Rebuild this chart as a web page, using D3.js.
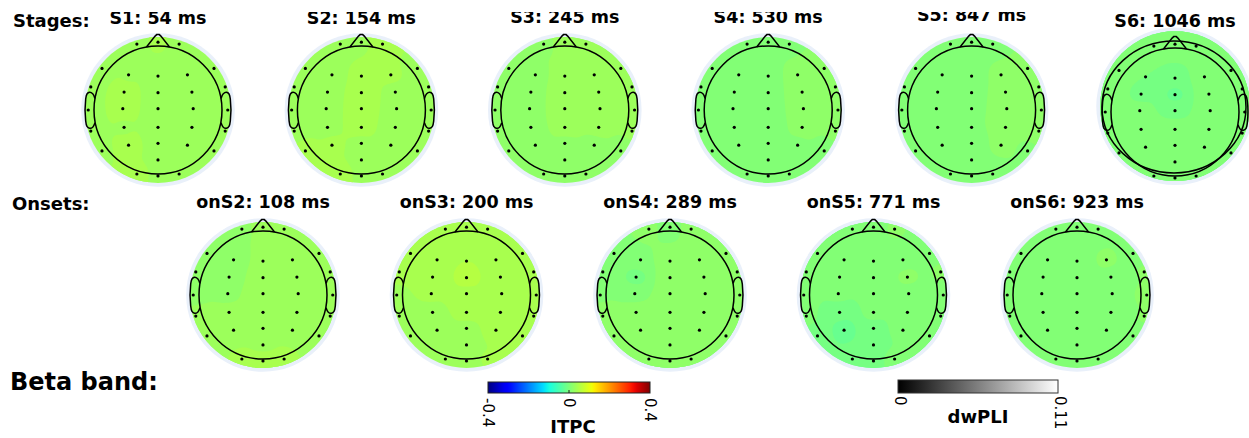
<!DOCTYPE html>
<html lang="en">
<head>
<meta charset="UTF-8">
<title>Beta band ITPC topographies</title>
<script src="https://d3js.org/d3.v7.min.js"></script>
<style>
  body { margin: 0; background: #fff; }
  svg { display: block; font-family: "DejaVu Sans", sans-serif; }
  .title { font-weight: bold; font-size: 17.5px; text-anchor: middle; }
  .row-label { font-weight: bold; font-size: 18px; }
  .cb-label { font-weight: bold; font-size: 18px; text-anchor: middle; }
  .tick-label { font-size: 15px; }
</style>
</head>
<body>
<div id="chart"></div>
<script>
// electrode montage, in head-radius units (x right, y towards the back of the head)
const electrodes = ["Fpz","Fp1","Fp2","F7","F8","FT7","FT8","T7","T8","TP7","TP8","P7","P8","O1","O2","Oz",
  "F3","Fz","F4","FC3","FCz","FC4","C3","Cz","C4","CP3","CPz","CP4","P3","Pz","P4","POz"];
const electrodeX = [0,-0.33,0.33,-0.875,0.875,-1.05,1.05,-1.09,1.09,-1.05,1.05,-0.875,0.875,-0.33,0.33,0,
  -0.46,0,0.46,-0.53,0,0.53,-0.55,0,0.55,-0.53,0,0.53,-0.46,0,0.46,0];
const electrodeY = [-1.06,-1.03,-1.03,-0.65,-0.65,-0.36,-0.36,0,0,0.33,0.33,0.64,0.64,1.0,1.0,1.03,
  -0.55,-0.53,-0.55,-0.28,-0.27,-0.28,-0.02,-0.02,-0.02,0.27,0.27,0.27,0.55,0.52,0.55,0.78];

// stage / onset names and latencies (ms)
const stageNames = ["S1","S2","S3","S4","S5","S6"];
const stageLatency = [54,154,245,530,847,1046];
const onsetNames = ["onS2","onS3","onS4","onS5","onS6"];
const onsetLatency = [108,200,289,771,923];

// ITPC per electrode (same order as `electrodes`)
const s1 = [.040,.033,.031,.031,.031,.032,.030,.031,.030,.032,.030,.036,.030,.042,.030,.036,
  .036,.031,.030,.047,.032,.030,.046,.032,.030,.036,.031,.030,.044,.033,.030,.034];
const s2 = [.036,.031,.044,.030,.033,.030,.031,.030,.030,.032,.030,.042,.030,.044,.031,.036,
  .030,.042,.040,.031,.046,.034,.032,.046,.032,.034,.045,.031,.040,.034,.030,.032];
const s3 = [.030,.022,.032,.020,.030,.020,.030,.020,.030,.020,.026,.020,.020,.019,.019,.019,
  .020,.032,.033,.020,.033,.033,.020,.034,.033,.021,.032,.030,.019,.022,.020,.019];
const s4 = [.005,.004,.010,.004,.018,.004,.020,.004,.018,.004,.014,.004,.008,.004,.005,.004,
  .004,.006,.020,.004,.008,.021,.004,.007,.021,.004,.006,.018,.004,.005,.010,.004];
const s5 = [.004,.004,.008,.004,.015,.004,.019,.004,.020,.004,.019,.004,.010,.004,.004,.004,
  .004,.005,.016,.004,.008,.020,.004,.010,.021,.004,.012,.021,.004,.005,.016,.004];
const s6 = [.005,.005,.005,.005,.005,.005,.005,.005,.005,.005,.005,.005,.005,.005,.005,.005,
  .000,-.004,.005,-.002,-.016,.005,.003,-.002,.005,.004,.004,.000,.005,.005,.004,.005];
const onS2 = [.030,.022,.030,.020,.032,.020,.032,.022,.032,.028,.032,.030,.034,.040,.040,.042,
  .020,.026,.030,.019,.030,.032,.022,.032,.033,.028,.033,.033,.032,.034,.034,.036];
const onS3 = [.044,.044,.044,.042,.044,.040,.044,.036,.044,.030,.044,.030,.042,.031,.038,.033,
  .044,.050,.045,.042,.058,.046,.040,.046,.044,.032,.042,.044,.030,.034,.040,.032];
const onS4 = [.008,.014,.016,.012,.018,.005,.018,.012,.018,.016,.018,.017,.018,.018,.018,.018,
  .012,.016,.018,-.006,.017,.018,.010,.018,.018,.017,.018,.018,.018,.018,.018,.018];
const onS5 = [.005,.004,.014,.004,.006,.004,.014,.004,.008,.002,.005,-.004,.005,-.008,.004,-.002,
  .004,.004,.006,.004,.004,.016,.004,.004,.005,-.010,.003,.005,-.020,-.004,.004,-.012];
const onS6 = [.004,.004,.005,.004,.006,.004,.013,.004,.015,.004,.013,.004,.006,.004,.004,.004,
  .004,.004,.016,.004,.004,.006,.004,.004,.008,.004,.004,.006,.004,.004,.005,.004];

const itpcTicks = [-0.4, 0, 0.4];
const dwpliTicks = [0, 0.11];

const svgWidth = 1249, svgHeight = 438;
const svg = d3.select("#chart").append("svg")
  .attr("width", svgWidth)
  .attr("height", svgHeight);
const defs = svg.append("defs");

// matplotlib "jet"
const jetR = d3.scaleLinear().domain([0, 0.35, 0.66, 0.89, 1]).range([0, 0, 1, 1, 0.5]).clamp(true);
const jetG = d3.scaleLinear().domain([0, 0.125, 0.375, 0.64, 0.91, 1]).range([0, 0, 1, 1, 0, 0]).clamp(true);
const jetB = d3.scaleLinear().domain([0, 0.11, 0.34, 0.65, 1]).range([0.5, 1, 1, 0, 0]).clamp(true);
const itpcNorm = d3.scaleLinear().domain([-0.4, 0.4]).range([0, 1]).clamp(true);
const jetT = t => d3.rgb(jetR(t) * 255, jetG(t) * 255, jetB(t) * 255).formatHex();
const jet = v => jetT(itpcNorm(v));

// head scale: 1 head radius = 64 px
const headR = 64;
const hx = d3.scaleLinear().domain([-1, 1]).range([-headR, headR]);
const hy = d3.scaleLinear().domain([-1, 1]).range([-headR, headR]);

// interpolation grid
const n = 72, ext = 1.25;
const gridScale = d3.scaleLinear().domain([0, n - 1]).range([-ext, ext]);
const step = 0.0125;
const levels = d3.range(-32, 33).map(i => i * step);

function gridValues(values) {
  const grid = new Float64Array(n * n);
  for (let j = 0; j < n; j++) {
    for (let i = 0; i < n; i++) {
      const x = gridScale(i), y = gridScale(j);
      let ws = 0, vs = 0;
      for (let k = 0; k < values.length; k++) {
        const d2 = (x - electrodeX[k]) ** 2 + (y - electrodeY[k]) ** 2;
        const w = 1 / Math.pow(d2 + 1e-6, 1.5);
        ws += w; vs += w * values[k];
      }
      grid[j * n + i] = vs / ws;
    }
  }
  return grid;
}

const gridPath = d3.geoPath(d3.geoTransform({
  point(x, y) { this.stream.point(hx(gridScale(x - 0.5)), hy(gridScale(y - 0.5))); }
}));

const noseShape = [[-0.18,-0.984],[-0.045,-1.155],[-0.02,-1.178],[0.02,-1.178],[0.045,-1.155],[0.18,-0.984]];
const earShape = [[-0.985,-0.18],[-1.02,-0.255],[-1.07,-0.278],[-1.11,-0.25],[-1.13,-0.17],
  [-1.13,0.17],[-1.11,0.255],[-1.07,0.285],[-1.02,0.27],[-0.985,0.2]];
const outline = d3.line().x(d => hx(d[0])).y(d => hy(d[1]));
const earLine = d3.line().x(d => hx(d[0])).y(d => hy(d[1])).curve(d3.curveCatmullRom);

let clipId = 0;
function drawTopo(cx, cy, values, opts = {}) {
  const g = svg.append("g").attr("transform", `translate(${cx},${cy})`);
  const diskR = opts.diskR || 1.14;
  const diskDy = opts.diskDy || 0;
  const id = "disk" + (clipId++);
  defs.append("clipPath").attr("id", id)
    .append("circle").attr("cx", 0).attr("cy", hy(diskDy)).attr("r", hx(diskR) - hx(0));

  g.append("circle").attr("cx", 0).attr("cy", hy(diskDy))
    .attr("r", hx(diskR + 0.06) - hx(0)).attr("fill", "#e9f0fa");

  const grid = gridValues(values);
  const lo = d3.min(grid), hi = d3.max(grid);
  const used = levels.filter(l => l <= hi);
  const first = d3.max(used.filter(l => l <= lo));
  const thr = used.filter(l => l >= first);
  const contours = d3.contours().size([n, n]).thresholds(thr)(grid);
  g.append("g").attr("clip-path", `url(#${id})`)
    .selectAll("path").data(contours).join("path")
    .attr("d", gridPath)
    .attr("fill", d => jet(d.value + step / 2));

  const line = g.append("g").attr("fill", "none").attr("stroke", "#000").attr("stroke-width", 1.5);
  line.append("circle").attr("r", hx(1) - hx(0));
  line.append("path").attr("d", outline(noseShape));
  line.append("path").attr("d", earLine(earShape));
  line.append("path").attr("d", earLine(earShape.map(p => [-p[0], p[1]])));
  if (opts.outerHead) {
    line.append("ellipse").attr("cx", -1).attr("cy", -5).attr("rx", 72).attr("ry", 66);
  }

  g.append("g").selectAll("circle").data(values).join("circle")
    .attr("cx", (d, i) => hx(electrodeX[i]))
    .attr("cy", (d, i) => hy(electrodeY[i]))
    .attr("r", 1.6)
    .attr("fill", "#000");
}

// layout
const stageX = d3.scalePoint().domain(stageNames).range([158, 1175]);
const onsetX = d3.scalePoint().domain(onsetNames).range([263, 1077]);
const stageValues = [s1, s2, s3, s4, s5, s6];
const onsetValues = [onS2, onS3, onS4, onS5, onS6];
const stageTitleY = [24, 24, 23.3, 22.7, 21, 27];

stageNames.forEach((name, i) => {
  if (name === "S6") {
    drawTopo(stageX(name), 112, stageValues[i], { diskR: 1.17, diskDy: -0.09, outerHead: true });
  } else {
    drawTopo(stageX(name), 110, stageValues[i]);
  }
});
onsetNames.forEach((name, i) => drawTopo(onsetX(name), 295, onsetValues[i]));

// titles (top row is cropped at the figure edge)
defs.append("clipPath").attr("id", "titleClip")
  .append("rect").attr("x", 0).attr("y", 12).attr("width", svgWidth).attr("height", svgHeight);
svg.append("g").attr("clip-path", "url(#titleClip)")
  .selectAll("text").data(stageNames).join("text")
  .attr("class", "title")
  .attr("x", d => stageX(d))
  .attr("y", (d, i) => stageTitleY[i])
  .text((d, i) => `${d}: ${stageLatency[i]} ms`);
svg.append("g").selectAll("text").data(onsetNames).join("text")
  .attr("class", "title")
  .attr("x", d => onsetX(d))
  .attr("y", 208)
  .text((d, i) => `${d}: ${onsetLatency[i]} ms`);

svg.append("text").attr("class", "row-label").attr("x", 13).attr("y", 27).text("Stages:");
svg.append("text").attr("class", "row-label").attr("x", 12).attr("y", 210).text("Onsets:");
svg.append("text").attr("class", "row-label").attr("x", 10).attr("y", 390)
  .style("font-size", "24px").text("Beta band:");

// ITPC colorbar
const itpcGrad = defs.append("linearGradient").attr("id", "jetGrad");
itpcGrad.selectAll("stop").data(d3.range(0, 1.0001, 0.02)).join("stop")
  .attr("offset", d => d).attr("stop-color", d => jetT(d));
const itpcScale = d3.scaleLinear().domain([-0.4, 0.4]).range([488, 650]);
svg.append("rect").attr("x", 488).attr("y", 382).attr("width", 162).attr("height", 11)
  .attr("fill", "url(#jetGrad)").attr("stroke", "#222").attr("stroke-width", 1);
svg.append("line").attr("x1", itpcScale(0)).attr("x2", itpcScale(0))
  .attr("y1", 390).attr("y2", 393).attr("stroke", "#222");
const itpcAxis = svg.append("g").attr("transform", "translate(0,397)")
  .call(d3.axisBottom(itpcScale).tickValues(itpcTicks).tickSize(0).tickFormat(d => String(d)));
itpcAxis.select(".domain").remove();
itpcAxis.selectAll("text")
  .attr("class", "tick-label")
  .attr("transform", "rotate(90)")
  .attr("x", 1).attr("y", 0).attr("dy", "0.35em")
  .style("text-anchor", "start").style("font-family", "DejaVu Sans").style("font-size", "15px");
svg.append("text").attr("class", "cb-label").attr("x", 573).attr("y", 433).text("ITPC");

// dwPLI colorbar
const greyGrad = defs.append("linearGradient").attr("id", "greyGrad");
greyGrad.append("stop").attr("offset", 0).attr("stop-color", "#000");
greyGrad.append("stop").attr("offset", 1).attr("stop-color", "#fff");
const dwpliScale = d3.scaleLinear().domain([0, 0.11]).range([898, 1058]);
svg.append("rect").attr("x", 898).attr("y", 380).attr("width", 160).attr("height", 13)
  .attr("fill", "url(#greyGrad)").attr("stroke", "#333").attr("stroke-width", 1);
const dwAxis = svg.append("g").attr("transform", "translate(2,395)")
  .call(d3.axisBottom(dwpliScale).tickValues(dwpliTicks).tickSize(0).tickFormat(d => String(d)));
dwAxis.select(".domain").remove();
dwAxis.selectAll("text")
  .attr("class", "tick-label")
  .attr("transform", "rotate(90)")
  .attr("x", 1).attr("y", 0).attr("dy", "0.35em")
  .style("text-anchor", "start").style("font-family", "DejaVu Sans").style("font-size", "15px");
svg.append("text").attr("class", "cb-label").attr("x", 978).attr("y", 423).text("dwPLI");
</script>
</body>
</html>
